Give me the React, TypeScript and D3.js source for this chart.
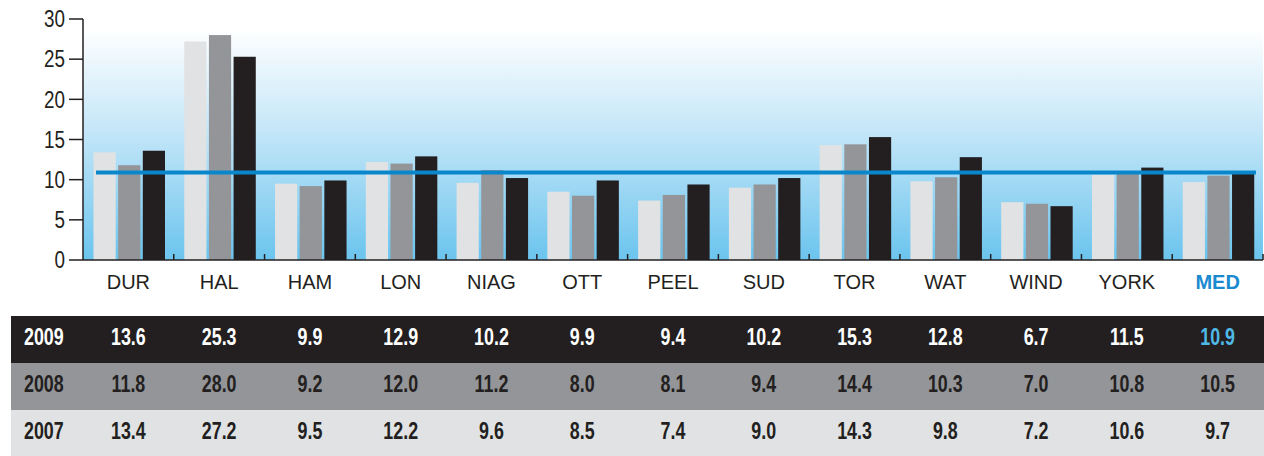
import React from 'react';
import * as d3 from 'd3';

const categories = ['DUR', 'HAL', 'HAM', 'LON', 'NIAG', 'OTT', 'PEEL', 'SUD', 'TOR', 'WAT', 'WIND', 'YORK', 'MED'];
const years = ['2007', '2008', '2009'];
const values2007 = [13.4, 27.2, 9.5, 12.2, 9.6, 8.5, 7.4, 9.0, 14.3, 9.8, 7.2, 10.6, 9.7];
const values2008 = [11.8, 28.0, 9.2, 12.0, 11.2, 8.0, 8.1, 9.4, 14.4, 10.3, 7.0, 10.8, 10.5];
const values2009 = [13.6, 25.3, 9.9, 12.9, 10.2, 9.9, 9.4, 10.2, 15.3, 12.8, 6.7, 11.5, 10.9];
const median = 10.9;
const yTicks = [0, 5, 10, 15, 20, 25, 30];

const W = 1264;
const H = 456;
const left = 83;
const right = 1263;
const top = 19;
const bottom = 260;

const barColors = ['#e1e2e3', '#939598', '#231f20'];
const rowFill: Record<string, string> = { '2009': '#231f20', '2008': '#939598', '2007': '#e1e2e3' };
const rowText: Record<string, string> = { '2009': '#ffffff', '2008': '#231f20', '2007': '#231f20' };

const sans = '"Liberation Sans", Arial, Helvetica, sans-serif';
const squeeze = 0.82; // no narrow face installed, so squeeze the regular one
const tableSqueeze = 0.76;

export default function App() {
  const series = [values2007, values2008, values2009];

  const x = d3.scaleBand<string>().domain(categories).range([left, right]).padding(0);
  const xInner = d3.scaleBand<string>().domain(years).range([10.5, 82]).paddingInner(0.1);
  const y = d3.scaleLinear().domain([0, 30]).range([bottom, top]);

  const tableRows = [
    { year: '2009', vals: values2009 },
    { year: '2008', vals: values2008 },
    { year: '2007', vals: values2007 },
  ];
  const rowTop = 316;
  const rowH = 47;

  return (
    <svg width={W} height={H} style={{ position: 'absolute', left: 0, top: 0, background: '#fff' }}>
      <defs>
        <linearGradient id="bg" x1="0" y1="0" x2="0" y2="1">
          <stop offset="0%" stopColor="#ffffff" />
          <stop offset="45%" stopColor="#c3e6f8" />
          <stop offset="100%" stopColor="#6bc4ee" />
        </linearGradient>
      </defs>

      <rect x={left} y={28} width={right - left} height={bottom - 28} fill="url(#bg)" />

      {categories.map((c, i) =>
        series.map((s, k) => (
          <rect
            key={c + k}
            x={(x(c) ?? 0) + (xInner(years[k]) ?? 0)}
            y={y(s[i])}
            width={xInner.bandwidth()}
            height={bottom - y(s[i])}
            fill={barColors[k]}
          />
        ))
      )}

      <line x1={96} x2={1256} y1={y(median)} y2={y(median)} stroke="#0a87cc" strokeWidth={4} />

      {/* axes */}
      <line x1={left} x2={left} y1={top} y2={bottom} stroke="#231f20" strokeWidth={1.5} />
      <line x1={left} x2={right} y1={bottom} y2={bottom} stroke="#231f20" strokeWidth={1.5} />
      {yTicks.map((t) => (
        <g key={t}>
          <line x1={69} x2={left} y1={y(t)} y2={y(t)} stroke="#231f20" strokeWidth={1.5} />
          <text
            transform={`translate(65,${y(t)}) scale(${squeeze},1)`}
            dy="0.36em"
            textAnchor="end"
            fontFamily={sans}
            fontSize={23}
            fill="#231f20"
          >
            {t}
          </text>
        </g>
      ))}
      {categories.map((c) => {
        const xr = (x(c) ?? 0) + x.bandwidth();
        return <line key={'t' + c} x1={xr} x2={xr} y1={bottom - 6} y2={bottom} stroke="#231f20" strokeWidth={1.5} />;
      })}
      {categories.map((c) => (
        <text
          key={'l' + c}
          x={(x(c) ?? 0) + x.bandwidth() / 2}
          y={289}
          textAnchor="middle"
          fontFamily={sans}
          fontSize={20}
          fontWeight={c === 'MED' ? 'bold' : 'normal'}
          fill={c === 'MED' ? '#1a8ad0' : '#231f20'}
        >
          {c}
        </text>
      ))}

      {/* data table */}
      {tableRows.map((r, ri) => {
        const ry = rowTop + ri * rowH;
        return (
          <g key={r.year}>
            <rect x={11} y={ry} width={W - 11} height={rowH} fill={rowFill[r.year]} />
            <text
              transform={`translate(24,${ry + 29}) scale(${tableSqueeze},1)`}
              fontFamily={sans}
              fontWeight="bold"
              fontSize={23.5}
              fill={rowText[r.year]}
            >
              {r.year}
            </text>
            {categories.map((c, i) => (
              <text
                key={c}
                transform={`translate(${(x(c) ?? 0) + x.bandwidth() / 2},${ry + 29}) scale(${tableSqueeze},1)`}
                textAnchor="middle"
                fontFamily={sans}
                fontWeight="bold"
                fontSize={23.5}
                fill={r.year === '2009' && c === 'MED' ? '#4fb8e6' : rowText[r.year]}
              >
                {r.vals[i].toFixed(1)}
              </text>
            ))}
          </g>
        );
      })}
    </svg>
  );
}
